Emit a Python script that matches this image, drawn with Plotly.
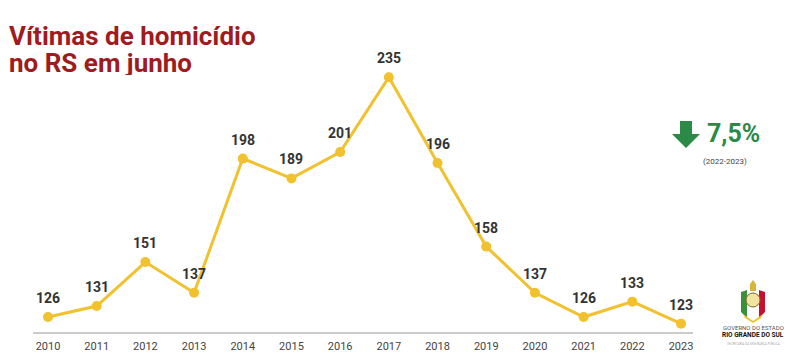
import plotly.graph_objects as go

years = [2010, 2011, 2012, 2013, 2014, 2015, 2016, 2017, 2018, 2019, 2020, 2021, 2022, 2023]
victims = [126, 131, 151, 137, 198, 189, 201, 235, 196, 158, 137, 126, 133, 123]
tick_labels = [str(y) for y in years]

title_lines = ["Vítimas de homicídio", "no RS em junho"]
change_text = "7,5%"
change_period = "(2022-2023)"

W, H = 800, 364
def px(x):
    return x / W
def py(y):
    return 1 - y / H

GOLD = "#f2c12e"
RED = "#9e1b20"
GREEN = "#2b8a47"

fig = go.Figure()
fig.add_trace(go.Scatter(
    x=years, y=victims, mode="lines+markers",
    line=dict(color=GOLD, width=3),
    marker=dict(color=GOLD, size=10),
    hoverinfo="x+y", showlegend=False,
))

annotations = []
for yr, v in zip(years, victims):
    annotations.append(dict(
        x=yr, y=v, xref="x", yref="y", text=str(v), showarrow=False,
        yshift=19, font=dict(family="Roboto", size=14, color="#333333", weight="bold"),
    ))

# Title
for i, line in enumerate(title_lines):
    annotations.append(dict(
        x=px(7), y=py(35 + i * 27), xref="paper", yref="paper", xanchor="left", yanchor="middle",
        text=line, showarrow=False, height=25,
        font=dict(family="Roboto", size=26, color=RED, weight="bold"),
    ))

# Change indicator
annotations.append(dict(
    x=px(733), y=py(133), xref="paper", yref="paper", xanchor="center", yanchor="middle",
    text=change_text, showarrow=False,
    font=dict(family="Roboto", size=25, color=GREEN, weight="bold"),
))
annotations.append(dict(
    x=px(725), y=py(161), xref="paper", yref="paper", xanchor="center", yanchor="middle",
    text=change_period, showarrow=False,
    font=dict(family="Roboto", size=8, color="#444444"),
))

# Logo texts
annotations.append(dict(
    x=px(753), y=py(327), xref="paper", yref="paper", xanchor="center", yanchor="middle",
    text="GOVERNO DO ESTADO", showarrow=False,
    font=dict(family="Roboto", size=6, color="#555555"),
))
annotations.append(dict(
    x=px(753), y=py(335), xref="paper", yref="paper", xanchor="center", yanchor="middle",
    text="RIO GRANDE DO SUL", showarrow=False,
    font=dict(family="Roboto", size=6.5, color="#111111", weight="bold"),
))
annotations.append(dict(
    x=px(753), y=py(343), xref="paper", yref="paper", xanchor="center", yanchor="middle",
    text="SECRETARIA DA SEGURANÇA PÚBLICA", showarrow=False,
    font=dict(family="Roboto", size=3, color="#aaaaaa"),
))

def path(points):
    s = "M " + " L ".join(f"{px(x):.5f},{py(y):.5f}" for x, y in points) + " Z"
    return s

shapes = [
    # down arrow
    dict(type="path", xref="paper", yref="paper", line=dict(width=0), fillcolor=GREEN,
         path=path([(680, 121), (692, 121), (692, 134), (700, 134), (686, 148), (672, 134), (680, 134)])),
    # logo emblem approximation
    dict(type="path", xref="paper", yref="paper", line=dict(width=0), fillcolor="#3a8f3a",
         path=path([(741, 292), (747, 290), (747, 318), (741, 312)])),
    dict(type="path", xref="paper", yref="paper", line=dict(width=0), fillcolor="#c8102e",
         path=path([(759, 290), (765, 292), (765, 312), (759, 318)])),
    dict(type="circle", xref="paper", yref="paper", line=dict(width=1, color="#7a6a2a"), fillcolor="#f1e3a0",
         x0=px(746), x1=px(760), y0=py(307), y1=py(293)),
    dict(type="path", xref="paper", yref="paper", line=dict(width=0), fillcolor="#f2c12e",
         path=path([(743, 314), (753, 321), (763, 314), (761, 318), (753, 323), (745, 318)])),
    dict(type="path", xref="paper", yref="paper", line=dict(width=0), fillcolor="#d9b43a",
         path=path([(750, 284), (753, 280), (756, 284), (756, 291), (750, 291)])),
]

fig.update_layout(
    width=W, height=H,
    margin=dict(l=0, r=0, t=0, b=0),
    paper_bgcolor="white", plot_bgcolor="white",
    xaxis=dict(
        domain=[px(33), px(693)], range=[2009.692, 2023.246],
        tickmode="array", tickvals=years, ticktext=tick_labels,
        showgrid=False, zeroline=False, showline=True, linecolor="#cccccc", linewidth=1.5,
        ticks="", ticklabelstandoff=3, tickfont=dict(family="Roboto", size=11, color="#444444"),
        fixedrange=True,
    ),
    yaxis=dict(
        domain=[32 / H, 1 - 60 / H], range=[119.2, 242.8],
        visible=False, fixedrange=True,
    ),
    annotations=annotations,
    shapes=shapes,
)

fig.write_html(
    "out.html",
    config={"displayModeBar": False},
    post_script="document.body.style.margin='0';document.body.style.overflow='hidden';",
)
